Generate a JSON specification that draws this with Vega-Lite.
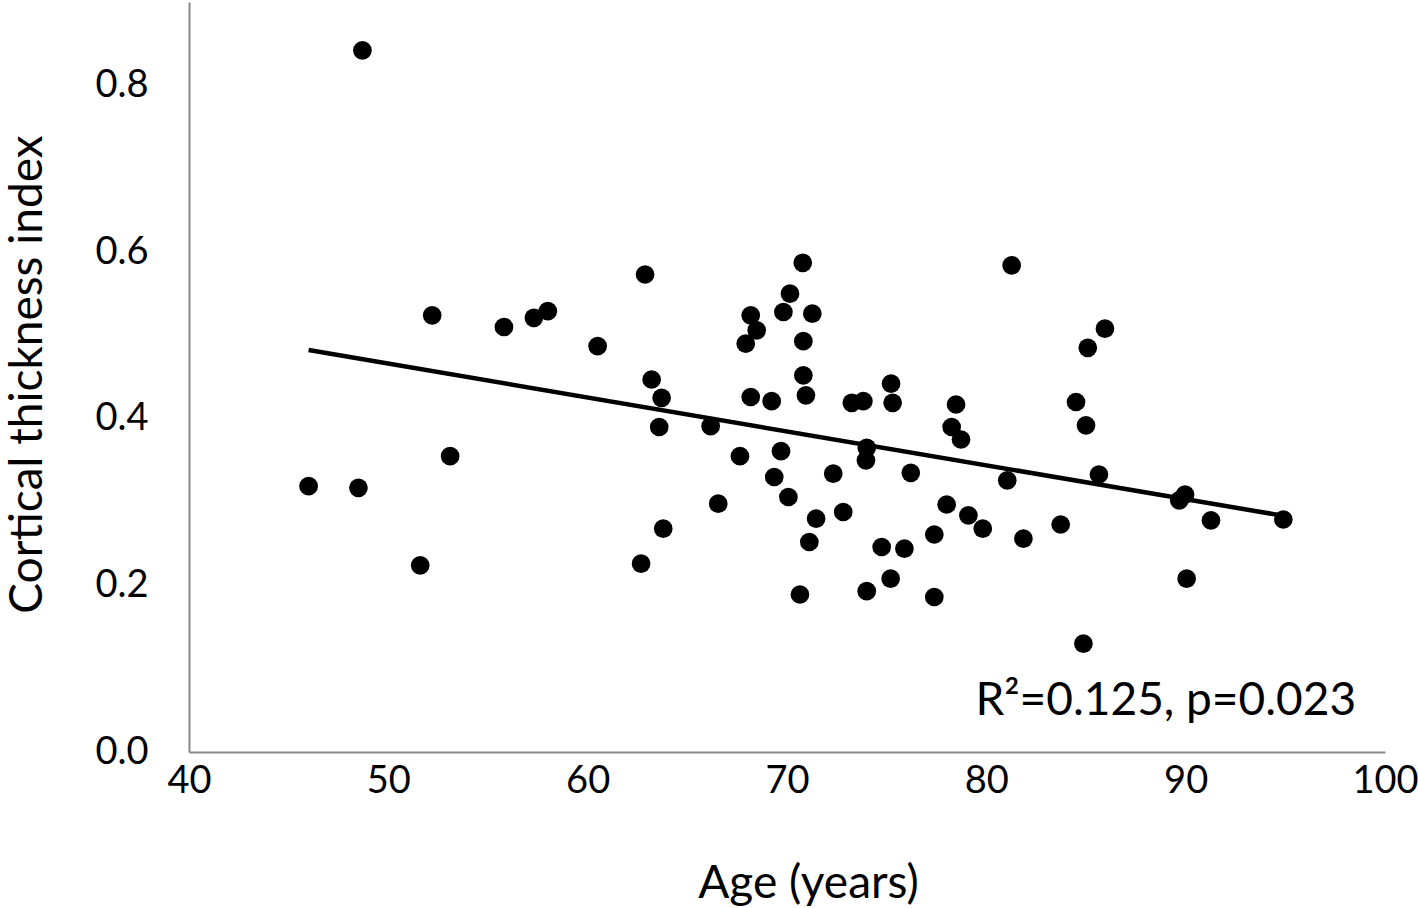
{
  "$schema": "https://vega.github.io/schema/vega-lite/v6.json",
  "autosize": {"type": "none"},
  "width": 1196,
  "height": 750,
  "padding": {"left": 189, "top": 2, "right": 33, "bottom": 156},
  "background": "white",
  "config": {
    "view": {"stroke": null},
    "font": "Lato",
    "axis": {"grid": false, "ticks": false, "domainColor": "#888888", "domainWidth": 2, "labelFont": "Lato", "labelFontSize": 38, "labelColor": "#000000", "titleFont": "Lato", "titleFontSize": 46, "titleFontWeight": "normal", "titleColor": "#000000"}
  },
  "datasets": {
    "points": [
      {"age": 46.0, "cti": 0.319},
      {"age": 48.5, "cti": 0.317},
      {"age": 48.7, "cti": 0.842},
      {"age": 51.6, "cti": 0.224},
      {"age": 52.2, "cti": 0.524},
      {"age": 53.1, "cti": 0.355},
      {"age": 55.8, "cti": 0.510},
      {"age": 57.3, "cti": 0.521},
      {"age": 58.0, "cti": 0.529},
      {"age": 60.5, "cti": 0.487},
      {"age": 62.88, "cti": 0.573},
      {"age": 70.79, "cti": 0.587},
      {"age": 81.27, "cti": 0.584},
      {"age": 70.15, "cti": 0.550},
      {"age": 68.18, "cti": 0.524},
      {"age": 69.82, "cti": 0.528},
      {"age": 71.27, "cti": 0.526},
      {"age": 68.48, "cti": 0.506},
      {"age": 67.93, "cti": 0.490},
      {"age": 70.82, "cti": 0.493},
      {"age": 63.21, "cti": 0.447},
      {"age": 70.82, "cti": 0.452},
      {"age": 63.71, "cti": 0.425},
      {"age": 68.18, "cti": 0.426},
      {"age": 69.23, "cti": 0.421},
      {"age": 70.95, "cti": 0.428},
      {"age": 73.25, "cti": 0.419},
      {"age": 73.83, "cti": 0.421},
      {"age": 75.22, "cti": 0.442},
      {"age": 75.30, "cti": 0.419},
      {"age": 78.48, "cti": 0.417},
      {"age": 78.26, "cti": 0.390},
      {"age": 78.73, "cti": 0.375},
      {"age": 63.59, "cti": 0.390},
      {"age": 66.17, "cti": 0.391},
      {"age": 69.70, "cti": 0.361},
      {"age": 74.00, "cti": 0.365},
      {"age": 73.96, "cti": 0.350},
      {"age": 67.64, "cti": 0.355},
      {"age": 69.36, "cti": 0.330},
      {"age": 72.32, "cti": 0.334},
      {"age": 76.21, "cti": 0.335},
      {"age": 81.05, "cti": 0.326},
      {"age": 70.07, "cti": 0.306},
      {"age": 66.55, "cti": 0.298},
      {"age": 71.46, "cti": 0.280},
      {"age": 72.82, "cti": 0.288},
      {"age": 78.01, "cti": 0.297},
      {"age": 79.10, "cti": 0.284},
      {"age": 79.82, "cti": 0.268},
      {"age": 77.39, "cti": 0.261},
      {"age": 63.79, "cti": 0.268},
      {"age": 71.12, "cti": 0.252},
      {"age": 74.75, "cti": 0.246},
      {"age": 75.89, "cti": 0.244},
      {"age": 81.86, "cti": 0.256},
      {"age": 62.68, "cti": 0.226},
      {"age": 75.20, "cti": 0.208},
      {"age": 70.65, "cti": 0.189},
      {"age": 74.00, "cti": 0.193},
      {"age": 77.39, "cti": 0.186},
      {"age": 85.95, "cti": 0.508},
      {"age": 85.09, "cti": 0.485},
      {"age": 84.50, "cti": 0.420},
      {"age": 85.00, "cti": 0.392},
      {"age": 85.65, "cti": 0.333},
      {"age": 89.97, "cti": 0.309},
      {"age": 89.68, "cti": 0.302},
      {"age": 91.27, "cti": 0.278},
      {"age": 94.90, "cti": 0.279},
      {"age": 83.73, "cti": 0.273},
      {"age": 90.05, "cti": 0.208},
      {"age": 84.87, "cti": 0.130}
    ],
    "note": [{"label": "R²=0.125, p=0.023"}]
  },
  "layer": [
    {
      "data": {"name": "points"},
      "mark": {"type": "circle", "size": 350, "opacity": 1, "color": "#000000"},
      "encoding": {
        "x": {"field": "age", "type": "quantitative", "scale": {"domain": [40, 100], "nice": false, "zero": false},
          "axis": {"title": "Age (years)", "values": [40, 50, 60, 70, 80, 90, 100], "format": "d", "labelPadding": 10, "labelFlush": false, "titleX": 619, "titleY": 145, "titleBaseline": "alphabetic", "titleAlign": "center"}},
        "y": {"field": "cti", "type": "quantitative", "scale": {"domain": [0, 0.9], "nice": false},
          "axis": {"title": "Cortical thickness index", "values": [0, 0.2, 0.4, 0.6, 0.8], "format": ".1f", "labelPadding": 41, "labelFlush": false, "titleX": -148, "titleY": 372, "titleAngle": -90, "titleBaseline": "alphabetic", "titleAlign": "center"}}
      }
    },
    {
      "data": {"name": "points"},
      "transform": [{"regression": "cti", "on": "age", "method": "linear"}],
      "mark": {"type": "line", "color": "#000000", "strokeWidth": 4.5},
      "encoding": {
        "x": {"field": "age", "type": "quantitative"},
        "y": {"field": "cti", "type": "quantitative"}
      }
    },
    {
      "data": {"name": "note"},
      "mark": {"type": "text", "font": "Lato", "fontSize": 46, "color": "#000000", "align": "center", "baseline": "alphabetic"},
      "encoding": {
        "text": {"field": "label"},
        "x": {"datum": 89},
        "y": {"datum": 0.044}
      }
    }
  ]
}
